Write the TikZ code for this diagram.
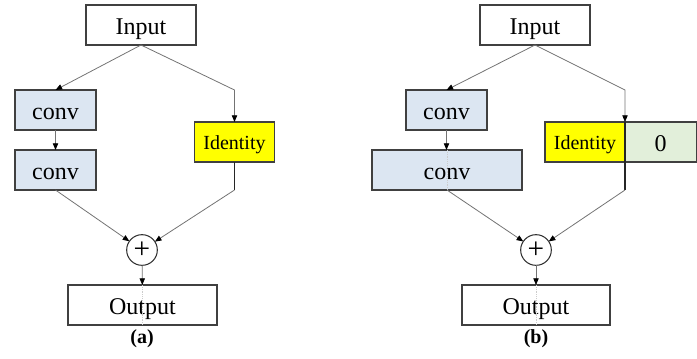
\documentclass[tikz,border=0pt]{standalone}
\usepackage{fontspec}
\setmainfont{Liberation Serif}
\usetikzlibrary{arrows.meta, positioning}

\definecolor{convblue}{RGB}{220,230,242}
\definecolor{idyellow}{RGB}{255,255,0}
\definecolor{zerogreen}{RGB}{226,239,218}

\tikzset{
  blk/.style={draw=black!75, line width=0.8pt, inner sep=0pt, outer sep=0pt,
    minimum height=30pt, text height=16pt, text depth=1.6pt,
    font=\fontsize{18}{20}\selectfont},
  convbox/.style={blk, fill=convblue},
  idbox/.style={blk, fill=idyellow, minimum width=60pt, text height=13pt, text depth=1.4pt,
    font=\fontsize{15}{17}\selectfont},
  zerobox/.style={blk, fill=zerogreen, minimum width=53.5pt},
  plusnode/.style={circle, draw=black!80, line width=0.8pt, inner sep=0pt, outer sep=0pt,
    minimum size=23pt, font=\fontsize{22}{22}\selectfont},
  conn/.style={draw=black!55, line width=0.6pt, -{Triangle[length=5pt,width=4pt,color=black]}},
  darkseg/.style={draw=black!85, line width=0.8pt},
  faint/.style={draw=black!20, line width=0.4pt, densely dotted},
  sublabel/.style={font=\fontsize{15}{17}\selectfont\bfseries}
}

\begin{document}
\begin{tikzpicture}[x=0.75pt,y=0.75pt,yscale=-1,xscale=1]
    \useasboundingbox (0,0) rectangle (697,358);

    % ---- (a) ----
    % Text Node
    \node[blk, minimum width=82.5pt] (ina) at (141,25) {Input};
    \node[convbox, minimum width=60.75pt] (c1a) at (55.5,110) {conv};
    \node[convbox, minimum width=60.75pt] (c2a) at (55.5,170) {conv};
    \node[idbox] (ida) at (234.5,142) {Identity};
    \node[plusnode] (pla) at (142,250) {+};
    \node[blk, minimum width=111.75pt] (outa) at (142.5,305) {Output};
    \node[sublabel] (laba) at (142,339) {(a)};
    \coordinate (kna) at (ida.south |- c2a.south);

    %Straight Lines
    \draw[conn] (ina.south) -- (c1a.north);
    \draw[conn] (ina.south) -- (ida.north |- c1a.north) -- (ida.north);
    \draw[conn] (c1a) -- (c2a);
    \draw[conn] (c2a.south) -- (pla);
    \draw[darkseg] (ida.south) -- (kna);
    \draw[conn] (kna) -- (pla);
    \draw[conn] (pla) -- (outa);
    \draw[faint] (outa.north) -- (outa.south);

    % ---- (b) ----
    % Text Node
    \node[blk, minimum width=82.5pt] (inb) at (535,25) {Input};
    \node[convbox, minimum width=60.75pt] (c1b) at (446.5,110) {conv};
    \node[convbox, minimum width=112.5pt] (c2b) at (447,170) {conv};
    \node[idbox] (idb) at (585,142) {Identity};
    \node[zerobox, right=0pt of idb] (zrb) {0};
    \node[plusnode] (plb) at (536,250) {+};
    \node[blk, minimum width=111pt] (outb) at (536,305) {Output};
    \node[sublabel] (labb) at (536,339) {(b)};
    \coordinate (knb) at (idb.south east |- c2b.south);

    %Straight Lines
    \draw[conn] (inb.south) -- (c1b.north);
    \draw[conn] (inb.south) -- (idb.north east |- c1b.north) -- (idb.north east);
    \draw[faint] (c2b.north) -- (c2b.south);
    \draw[conn] (c1b) -- (c1b |- c2b.north);
    \draw[conn] (c2b.south) -- (plb);
    \draw[darkseg] (idb.north east) -- (knb);
    \draw[conn] (knb) -- (plb);
    \draw[conn] (plb) -- (outb);
    \draw[faint] (outb.north) -- (outb.south);

\end{tikzpicture}
\end{document}
